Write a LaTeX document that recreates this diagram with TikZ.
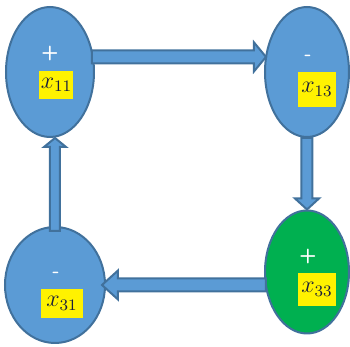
\documentclass[tikz,border=0pt]{standalone}
\usepackage{amsmath}
\usepackage{tikz}
\usetikzlibrary{shapes.geometric,calc}
\definecolor{cellblue}{HTML}{5B9BD5}
\definecolor{celledge}{HTML}{41719C}
\definecolor{cellgreen}{HTML}{00B050}
\definecolor{ink}{RGB}{25,30,60}
\tikzset{cell/.style={ellipse,draw=celledge,line width=1pt,fill=cellblue,inner sep=0pt},
	sign/.style={text=white,font=\sffamily\bfseries,inner sep=0pt},
	varbox/.style={fill=yellow,text=ink,font=\large,inner sep=0pt,minimum width=17pt,minimum height=14pt},
	arrowline/.style={draw=celledge,fill=cellblue,line width=1pt,line join=miter}}
% block arrow: from, to, half shaft, half head, head length
\newcommand{\blockarrow}[5]{%
	\draw[arrowline] let \p1=(#1), \p2=(#2), \n1={atan2(\y2-\y1,\x2-\x1)}, \n2={veclen(\x2-\x1,\y2-\y1)} in
	[shift={(\p1)}, rotate=\n1]
	(0,-#3) -- (\n2-#5,-#3) -- (\n2-#5,-#4) -- (\n2,0) -- (\n2-#5,#4) -- (\n2-#5,#3) -- (0,#3) -- cycle;}

\begin{document}
\begin{tikzpicture}[x=1pt,y=1pt]
	\useasboundingbox (0,0) rectangle (175,173.5);
	% cells
	\node [cell,minimum width=44pt,minimum height=65pt] (e11) at (25,137.5) {};
	\node [cell,minimum width=42pt,minimum height=65pt] (e13) at (153.5,137.5) {};
	\node [cell,minimum width=50pt,minimum height=58pt] (e31) at (27.5,31) {};
	\node [cell,fill=cellgreen,minimum width=42pt,minimum height=61.5pt] (e33) at (153.5,37.5) {};
	% arrows
	\blockarrow{$(e11.19)+(-1,0)$}{$(e11.19 -| e13.west)+(1,0)$}{3.25}{7.25}{6}
	\blockarrow{e13.south}{e33.north}{2.75}{6}{5.5}
	\blockarrow{$(e31.east -| e33.west)+(1,0)$}{$(e31.east)+(-2,0)$}{3.25}{7.25}{8}
	\blockarrow{$(e31.north)+(0,-2.5)$}{e11.south -| e31.north}{2.5}{5.5}{4.5}
	% signs and labels
	\node [sign] (s11) at ([yshift=9pt]e11.center) {+};
	\node [varbox] (v11) at ([shift={(3.25pt,-6.5pt)}]e11.center) {$x_{11}$};
	\node [sign] (s13) at ([shift={(0.5pt,7pt)}]e13.center) {-};
	\node [varbox,minimum width=19pt,minimum height=17.5pt] (v13) at ([shift={(5pt,-8.75pt)}]e13.center) {$x_{13}$};
	\node [sign] (s31) at ([shift={(0.5pt,5pt)}]e31.center) {-};
	\node [varbox,minimum width=21pt,minimum height=14.5pt] (v31) at ([shift={(3.5pt,-9.25pt)}]e31.center) {$x_{31}$};
	\node [sign] (s33) at ([shift={(0.5pt,7.5pt)}]e33.center) {+};
	\node [varbox,minimum width=19pt,minimum height=16.5pt] (v33) at ([shift={(5pt,-8.75pt)}]e33.center) {$x_{33}$};
\end{tikzpicture}
\end{document}
